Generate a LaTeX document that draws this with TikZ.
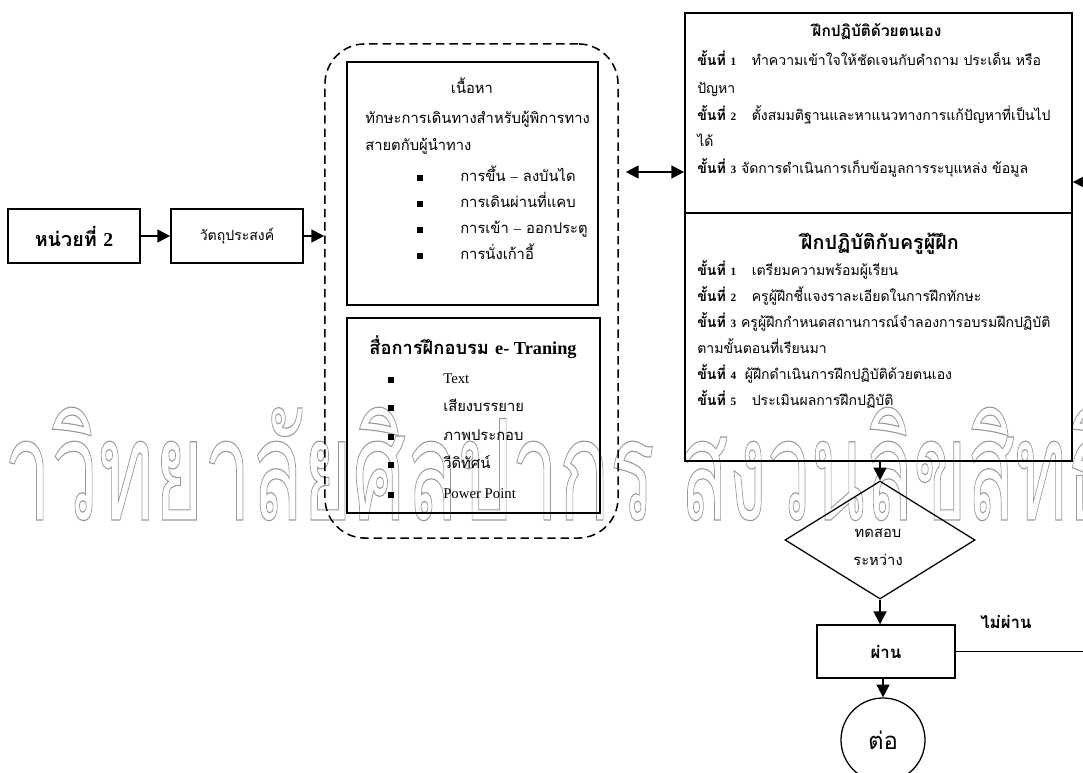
\documentclass[tikz,border=0pt]{standalone}
\usepackage{fontspec}
\setmainfont{Liberation Serif}
\newfontfamily\thai[Script=Thai]{Loma}
\usetikzlibrary{arrows.meta,shapes.geometric}

\newcommand{\khanti}[1]{\textbf{ขั้นที่}\hspace{0.35em}{\rmfamily\bfseries\footnotesize #1}}
\newcommand{\bul}[5]{
\fill (#2-3,#4-3) rectangle (#2+3,#4+3);
\node[txt] (#1) at (#3,#4) {#5};
}
\newcommand{\wmark}[2]{\scalebox{#1}[1]{\special{pdf:literal direct 1 Tr 0.8 w}\thai\fontsize{100}{100}\selectfont #2\special{pdf:literal direct 0 Tr}}}

\begin{document}
\begin{tikzpicture}[x=0.025cm, y=-0.025cm,
  box/.style={draw, line width=1.2pt, inner sep=0pt},
  txt/.style={anchor=west, inner sep=0pt, text height=8pt, text depth=3pt, font=\thai\fontsize{10.5}{12}\selectfont},
  rtxt/.style={txt, font=\thai\fontsize{10}{12}\selectfont},
  ttl/.style={inner sep=0pt, text height=9pt, text depth=3pt, font=\thai\bfseries\fontsize{11}{13}\selectfont},
  arr/.style={line width=1.4pt, -{Triangle[length=3.2mm,width=3.2mm]}},
  dbl/.style={line width=1.4pt, {Triangle[length=3.2mm,width=3.2mm]}-{Triangle[length=3.2mm,width=3.2mm]}}]
\useasboundingbox (0,0) rectangle (1083,773);

% watermark
\node[anchor=base east, inner sep=0, text=black!40] (wmleft) at (655,520) {\wmark{0.6}{มหาวิทยาลัยศิลปากร}};
\node[anchor=base west, inner sep=0, text=black!40] (wmright) at (680,520) {\wmark{0.56}{สงวนลิขสิทธิ์}};

\node[box, minimum width=3.3cm, minimum height=1.35cm, font=\thai\bfseries\fontsize{14}{16}\selectfont] (unit) at (74,236) {หน่วยที่ {\rmfamily 2}};
\node[box, minimum width=3.3cm, minimum height=1.35cm, font=\thai\fontsize{10}{12}\selectfont] (obj) at (237,236) {วัตถุประสงค์};

\node[draw, line width=1.1pt, dash pattern=on 6pt off 3.5pt, rounded corners=1cm, minimum width=7.325cm, minimum height=12.35cm] (group) at (471.5,291) {};
\node[box, minimum width=6.275cm, minimum height=6.075cm] (content) at (472.5,183.5) {};
\node[box, minimum width=6.325cm, minimum height=4.875cm] (media) at (473.5,415.5) {};

\node[txt, anchor=center] (contitle) at (472,90) {เนื้อหา};
\node[txt] (skill1) at (365,120) {ทักษะการเดินทางสำหรับผู้พิการทาง};
\node[txt] (skill2) at (365,147) {สายตกับผู้นำทาง};
\bul{stair}{420}{460}{178}{การขึ้น {\rmfamily –} ลงบันได}
\bul{narrow}{420}{460}{204}{การเดินผ่านที่แคบ}
\bul{door}{420}{460}{230}{การเข้า {\rmfamily –} ออกประตู}
\bul{chair}{420}{460}{256}{การนั่งเก้าอี้}

\node[ttl, font=\thai\bfseries\fontsize{13}{15}\selectfont] (medtitle) at (473,350) {สื่อการฝึกอบรม {\rmfamily e- Traning}};
\bul{text}{391}{443}{380}{\rmfamily Text}
\bul{voice}{391}{443}{408}{เสียงบรรยาย}
\bul{image}{391}{443}{437}{ภาพประกอบ}
\bul{video}{391}{443}{465}{วีดิทัศน์}
\bul{ppt}{391}{443}{495}{\rmfamily Power Point}

\node[box, minimum width=9.675cm, minimum height=5cm] (self) at (878.5,113) {};
\node[box, minimum width=9.675cm, minimum height=6.2cm] (coach) at (878.5,337) {};

\node[ttl] (selftitle) at (877,32) {ฝึกปฏิบัติด้วยตนเอง};
\node[rtxt] (self1) at (697,62) {\khanti{1}\hspace{1.1em}ทำความเข้าใจให้ชัดเจนกับคำถาม ประเด็น หรือ};
\node[rtxt] (self1b) at (697,90) {ปัญหา};
\node[rtxt] (self2) at (697,117) {\khanti{2}\hspace{1.1em}ตั้งสมมติฐานและหาแนวทางการแก้ปัญหาที่เป็นไป};
\node[rtxt] (self2b) at (697,143) {ได้};
\node[rtxt] (self3) at (697,170) {\khanti{3} จัดการดำเนินการเก็บข้อมูลการระบุแหล่ง ข้อมูล};

\node[ttl, font=\thai\bfseries\fontsize{14}{16}\selectfont] (coachtitle) at (880,245) {ฝึกปฏิบัติกับครูผู้ฝึก};
\node[rtxt] (coach1) at (697,272) {\khanti{1}\hspace{1.1em}เตรียมความพร้อมผู้เรียน};
\node[rtxt] (coach2) at (697,298) {\khanti{2}\hspace{1.1em}ครูผู้ฝึกชี้แจงราละเอียดในการฝึกทักษะ};
\node[rtxt] (coach3) at (697,324) {\khanti{3} ครูผู้ฝึกกำหนดสถานการณ์จำลองการอบรมฝึกปฏิบัติ};
\node[rtxt] (coach3b) at (697,350) {ตามขั้นตอนที่เรียนมา};
\node[rtxt] (coach4) at (697,376) {\khanti{4}\hspace{0.6em}ผู้ฝึกดำเนินการฝึกปฏิบัติด้วยตนเอง};
\node[rtxt] (coach5) at (697,402) {\khanti{5}\hspace{1.1em}ประเมินผลการฝึกปฏิบัติ};

\node[draw, diamond, line width=0.9pt, minimum width=4.75cm, minimum height=2.95cm, inner sep=0pt] (test) at (880,540) {};
\node[txt, anchor=center] (test1) at (878,534) {ทดสอบ};
\node[txt, anchor=center] (test2) at (878,562) {ระหว่าง};

\node[box, minimum width=3.45cm, minimum height=1.325cm, line width=1pt, font=\thai\bfseries\fontsize{12}{14}\selectfont] (pass) at (886,651.5) {ผ่าน};
\node[inner sep=0pt, font=\thai\bfseries\fontsize{12}{14}\selectfont] (fail) at (1006,622) {ไม่ผ่าน};
\node[draw, circle, line width=0.9pt, minimum size=2.1cm, font=\thai\fontsize{17}{19}\selectfont] (cont) at (883,740) {ต่อ};

\coordinate (mid) at (0,172);
\coordinate (back) at (1110,182);

\draw[arr] (unit) -- (obj);
\draw[arr] (obj) -- (obj -| group.west);
\draw[dbl, shorten <=0.175cm] (group.east |- mid) -- (self.west |- mid);
\draw[arr] (coach.south -| test) -- (test.north);
\draw[arr] (test.south) -- (test.south |- pass.north);
\draw[arr] (pass.south -| cont) -- (cont);
\draw[line width=1pt] (pass.east) -| (back);
\draw[arr] (back) -- (self.east |- back);
% \draw[help lines, step=50] (0,0) grid (1083,773);
\end{tikzpicture}
\end{document}
